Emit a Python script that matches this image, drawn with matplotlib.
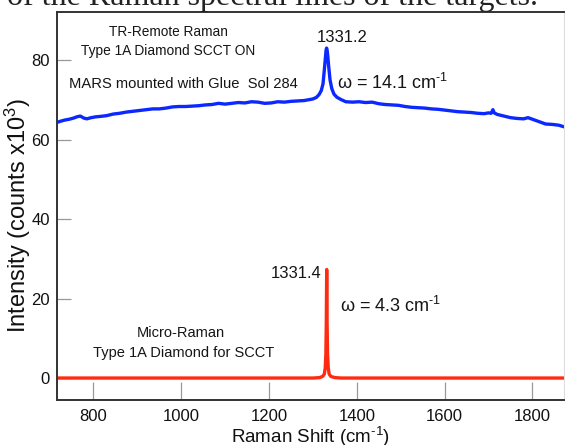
import matplotlib
matplotlib.use("Agg")
import matplotlib.pyplot as plt

SANS = ['Liberation Sans', 'DejaVu Sans']
plt.rcParams['font.family'] = SANS
plt.rcParams['mathtext.fontset'] = 'custom'
plt.rcParams['mathtext.rm'] = 'Liberation Sans'
plt.rcParams['mathtext.it'] = 'Liberation Sans:italic'

# ---- data ----
remote_x = [717, 725, 735, 745, 755, 762, 770, 778, 785, 795, 805, 815, 830, 845, 860, 875, 890, 905,
            920, 935, 950, 965, 980, 995, 1010, 1025, 1040, 1055, 1070, 1085, 1100, 1115, 1130, 1145,
            1160, 1175, 1190, 1205, 1220, 1235, 1250, 1265, 1280, 1290, 1300, 1308, 1314, 1319, 1323,
            1326, 1328, 1330, 1331.2, 1332.5, 1334, 1336, 1339, 1343, 1348, 1355, 1365, 1375, 1390,
            1405, 1420, 1435, 1450, 1465, 1480, 1495, 1510, 1525, 1540, 1555, 1570, 1585, 1600, 1615,
            1630, 1645, 1660, 1675, 1690, 1700, 1706, 1710, 1713, 1720, 1735, 1750, 1765, 1780, 1790,
            1800, 1815, 1830, 1845, 1860, 1872]
remote_y = [64.3, 64.6, 64.9, 65.1, 65.4, 65.7, 65.9, 65.4, 65.2, 65.5, 65.7, 65.8, 66.0, 66.4, 66.6,
            66.9, 67.1, 67.3, 67.5, 67.7, 67.7, 67.9, 68.2, 68.3, 68.3, 68.4, 68.5, 68.7, 68.8, 69.1,
            68.9, 69.1, 69.3, 69.2, 69.5, 69.4, 69.1, 69.2, 69.5, 69.4, 69.6, 69.7, 69.8, 70.0, 70.2,
            70.6, 71.3, 72.3, 74.0, 77.5, 80.0, 82.5, 83.0, 82.4, 80.8, 78.3, 75.0, 72.8, 71.4, 70.6,
            70.0, 69.5, 69.4, 69.5, 69.3, 69.4, 69.0, 68.8, 68.7, 68.6, 68.3, 68.1, 68.0, 67.9, 67.7,
            67.6, 67.4, 67.2, 67.0, 66.9, 66.8, 66.6, 66.5, 66.7, 66.6, 67.5, 66.7, 66.3, 65.9, 65.5,
            65.3, 65.2, 65.5, 65.1, 64.5, 63.9, 63.8, 63.6, 63.2]

micro_x = [717, 1300, 1315, 1322, 1326, 1328, 1329.5, 1330.5, 1331.4, 1332.3, 1333.3, 1335, 1337,
           1341, 1350, 1365, 1872]
micro_y = [0, 0, 0.1, 0.4, 1.0, 2.5, 6.0, 14.0, 27.3, 14.0, 6.0, 2.5, 1.0, 0.4, 0.1, 0, 0]

x_ticks = [800, 1000, 1200, 1400, 1600, 1800]
y_ticks = [0, 20, 40, 60, 80]

fig = plt.figure(figsize=(5.65, 4.45), dpi=100)
ax = fig.add_axes([57/565, 45.5/445, (564-57)/565, (399.5-11.5)/445])

ax.plot(remote_x, remote_y, color='#0a28ff', lw=2.4, solid_joinstyle='round')
ax.plot(micro_x, micro_y, color='#ff2a10', lw=2.4, solid_joinstyle='round')

ax.set_xlim(717, 1872)
ax.set_ylim(-5.4, 92.2)
ax.set_xticks(x_ticks)
ax.set_yticks(y_ticks)

for s in ['left', 'bottom', 'top']:
    ax.spines[s].set_color('#333333')
    ax.spines[s].set_linewidth(1.4)
ax.spines['right'].set_color('#dddddd')
ax.spines['right'].set_linewidth(0.8)

ax.tick_params(axis='x', direction='in', length=13, width=0.9, color='#999999',
               labelsize=12, labelcolor='#111111', pad=7)
ax.tick_params(axis='y', direction='in', length=10, width=0.9, color='#999999',
               labelsize=12, labelcolor='#111111', pad=5)

ax.set_xlabel('Raman Shift (cm$^{\\text{-1}}$)', fontsize=13.5, color='#111111')
ax.xaxis.set_label_coords(0.5, -(428 - 399.5 - 3) / 388, transform=ax.transAxes)
ax.xaxis.label.set_va('top')
ax.set_ylabel('Intensity (counts x10$^{3}$)', fontsize=17, color='#111111')
ax.yaxis.set_label_coords((33 - 57) / 507, (399.5 - 215) / 388)

tc = '#151515'

def t(xp, yp, s, **kw):
    # position given in pixels from the top-left corner of the figure
    fig.text(xp/565, 1 - yp/445, s, **kw)

t(168, 32, 'TR-Remote Raman', ha='center', va='center', fontsize=9.8, color=tc)
t(168, 51, 'Type 1A Diamond SCCT ON', ha='center', va='center', fontsize=9.9, color=tc)
t(183, 84, 'MARS mounted with Glue  Sol 284', ha='center', va='center', fontsize=10.6, color=tc)
t(342, 37, '1331.2', ha='center', va='center', fontsize=12, color=tc)
t(337, 83, 'ω = 14.1 cm$^{\\text{-1}}$', ha='left', va='center', fontsize=13, color=tc)
t(321, 273, '1331.4', ha='right', va='center', fontsize=12, color=tc)
t(340, 306, 'ω = 4.3 cm$^{\\text{-1}}$', ha='left', va='center', fontsize=13, color=tc)
t(181, 333, 'Micro-Raman', ha='center', va='center', fontsize=10.5, color=tc)
t(184, 353, 'Type 1A Diamond for SCCT', ha='center', va='center', fontsize=10.5, color=tc)

# cropped caption line from the source page
t(7, 5, 'of the Raman spectral lines of the targets.', ha='left', va='baseline',
  fontsize=23, color='#222222', family=['Liberation Serif', 'DejaVu Serif'])

fig.savefig('out.png', dpi=100)
